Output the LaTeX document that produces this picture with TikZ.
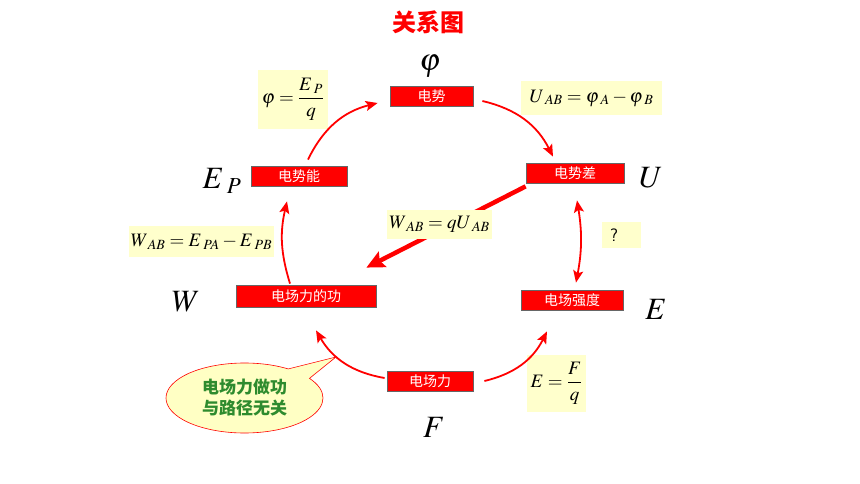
\documentclass[tikz,border=0pt]{standalone}
\usepackage{mathptmx}
\usepackage{fontspec}
\newfontfamily\cjk{Noto Sans CJK SC}
\usetikzlibrary{arrows.meta,shapes.callouts}
\definecolor{boxred}{HTML}{FF0000}
\definecolor{pale}{HTML}{FFFFCC}
\definecolor{dgreen}{HTML}{2E8B2E}
\definecolor{notefill}{HTML}{FFFFC4}
\newcommand{\sgap}{\mkern4mu}
\begin{document}
\begin{tikzpicture}[x=1pt,y=-1pt,
  rbox/.style={draw=black!60, line width=0.8pt, fill=boxred, text=white,
    font=\cjk\fontsize{14}{14}\selectfont, minimum height=20pt, inner sep=0pt},
  fbox/.style={fill=pale, inner sep=0pt, font=\fontsize{19}{22}\selectfont},
  big/.style={font=\fontsize{31}{33}\selectfont, inner sep=0pt},
  arr/.style={draw=red, line width=1.8pt, -{Stealth[length=12pt,width=10pt,inset=2.5pt]}},
  dblarr/.style={draw=red, line width=1.8pt, {Stealth[length=12pt,width=10pt,inset=2.5pt]}-{Stealth[length=12pt,width=10pt,inset=2.5pt]}},
  fatarr/.style={draw=red, line width=4.5pt, -{Stealth[length=18pt,width=17pt,inset=3pt]}}]
\fill[white] (0,0) rectangle (860,484);
\useasboundingbox (0,0) rectangle (860,484);

% title
\node[font=\cjk\bfseries\fontsize{24}{24}\selectfont, text=red] (title) at (428,22) {关系图};

% red boxes
\node[rbox, minimum width=83pt] (phi) at (431.5,96) {电势};
\node[rbox, minimum width=96pt] (ep) at (299,176) {电势能};
\node[rbox, minimum width=98pt] (u) at (575,173) {电势差};
\node[rbox, minimum width=140pt, minimum height=22pt] (w) at (306,296) {电场力的功};
\node[rbox, minimum width=86pt] (f) at (430,381) {电场力};
\node[rbox, minimum width=102pt] (e) at (572,300) {电场强度};

% symbols
\node[big] (lphi) at (430,66) {$\varphi$};
\node[big] (lep) at (222,181) {$E_{\sgap P}$};
\node[big] (lu) at (651,178) {$U$};
\node[big] (lw) at (186,302) {$W$};
\node[big] (le) at (656,309) {$E$};
\node[big] (lf) at (434,427) {$F$};

% formula boxes
\node[fbox, minimum width=70pt, minimum height=59pt] (f1) at (293,99.5) {$\varphi=\displaystyle\frac{E_{\sgap P}}{q}$};
\node[fbox, minimum width=141pt, minimum height=34pt] (f2) at (591.5,98) {$U_{\sgap AB}=\varphi_{\sgap A}-\varphi_{\sgap B}$};
\node[fbox, minimum width=145pt, minimum height=31pt] (f3) at (201.5,241.5) {$W_{\sgap AB}=E_{\sgap PA}-E_{\sgap PB}$};
\node[fbox, minimum width=39pt, minimum height=26pt, inner xsep=8pt, text width=23pt, align=left,
  font=\sffamily\fontsize{18}{18}\selectfont] (f5) at (621.5,235) {?};
\node[fbox, minimum width=59pt, minimum height=57pt] (f6) at (556.5,383.5) {$E=\displaystyle\frac{F}{q}$};

% arrows
\draw[arr] ([xshift=9pt,yshift=6pt]ep.north) to[bend left=25] ([xshift=-12pt,yshift=-7pt]phi.west);
\draw[arr] ([xshift=9pt,yshift=-5pt]phi.east) to[bend left=25] ([xshift=-22pt,yshift=6pt]u.north);
\draw[dblarr] ([xshift=2pt,yshift=-17pt]u.south) to[bend left=10] ([xshift=4pt,yshift=7pt]e.north);
\draw[arr] ([xshift=11pt]f.east) to[bend right=25] ([xshift=-25pt,yshift=-21pt]e.south);
\draw[arr] ([xshift=-2pt,yshift=3pt]f.west) to[bend left=25] ([xshift=10pt,yshift=-23pt]w.south);
\draw[arr] ([xshift=-16pt,yshift=1pt]w.north) to[bend left=15] ([xshift=-12pt,yshift=-15pt]ep.south);
\draw[fatarr] ([yshift=-3pt]u.south west) -- ([xshift=-10pt,yshift=17pt]w.north east);

% formula box lying over the thick arrow
\node[fbox, minimum width=105pt, minimum height=29pt] (f4) at (439.5,224.5) {$W_{\sgap AB}=qU_{\sgap AB}$};

% callout
\coordinate (tipc) at (336,357);
\node[ellipse callout, draw=red, line width=0.6pt, fill=notefill,
  minimum width=157pt, minimum height=70pt, inner sep=0pt,
  callout absolute pointer={(tipc)}, callout pointer arc=22,
  font=\cjk\bfseries\fontsize{17}{21}\selectfont, text=dgreen, align=center]
  (note) at (244.5,398) {电场力做功\\与路径无关};
\end{tikzpicture}
\end{document}
